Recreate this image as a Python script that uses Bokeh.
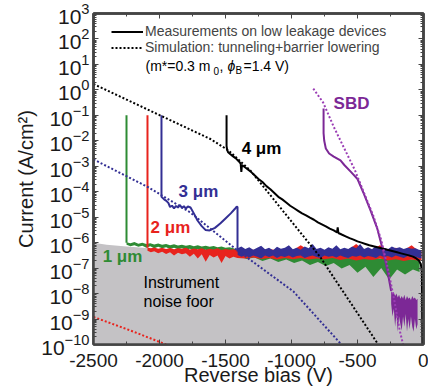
import numpy as np
from bokeh.plotting import figure
from bokeh.models import (FixedTicker, LinearAxis, LogAxis, Legend, LegendItem, Label,
                          CustomJSTickFormatter)
from bokeh.core.properties import value
from bokeh.embed import file_html
from bokeh.resources import INLINE

FONT = "Liberation Sans"

# ---- data: reverse bias (V) and log10 of current density (A/cm^2) ----

# simulation, tunneling + barrier lowering
sim_4um_v = [-2500, -2250, -2000, -1750, -1614, -1477, -1311, -1200, -1098, -950, -780, -680, -550, -450, -348]
sim_4um_log = [0.23, -0.38, -0.99, -1.60, -1.93, -2.38, -3.17, -3.88, -4.54, -5.49, -6.58, -7.37, -8.38, -9.16, -9.96]

sim_3um_v = [-2500, -2485, -2083, -1765, -1409, -985, -629]
sim_3um_log = [-2.73, -2.77, -3.83, -4.82, -6.31, -7.92, -9.96]

sim_2um_v = [-2500, -2220, -1950]
sim_2um_log = [-8.92, -9.45, -10.0]

sim_sbd_v = [-835, -760, -680, -600, -520, -450, -380, -320, -270, -220, -180, -150]
sim_sbd_log = [0.05, -0.50, -1.45, -2.30, -3.15, -4.05, -4.95, -5.90, -7.00, -8.30, -9.45, -10.1]

# instrument noise floor (upper edge)
floor_v = [-2500, -2400, -2250, -2000, -1500, -1000, -500, 0]
floor_log = [-6.0, -6.08, -6.15, -6.25, -6.4, -6.55, -6.7, -6.8]

# measured devices: breakdown step followed by noisy leakage (band = lower/upper envelope)
m1_step_v = [-2250, -2250]
m1_step_log = [-1.0, -6.0]
m1_v = [-2250, -2220, -2190, -2160, -2130, -2100, -2070, -2040, -2010, -1980, -1950, -1920, -1890, -1860,
        -1830, -1800, -1770, -1740, -1710, -1680, -1650, -1620, -1590, -1560, -1530, -1500, -1470, -1440,
        -1400, -1340, -1280, -1220, -1160, -1100, -1040, -980, -920, -860, -800, -740, -680, -620, -560,
        -500, -440, -380, -320, -260, -200, -140, -80, -30]
m1_hi = [-5.98, -6.02, -5.97, -6.04, -6.00, -6.05, -6.02, -6.07, -6.03, -6.08, -6.05, -6.10, -6.06, -6.11,
         -6.08, -6.12, -6.09, -6.14, -6.10, -6.15, -6.12, -6.16, -6.13, -6.18, -6.15, -6.20, -6.18, -6.22,
         -6.30, -6.40, -6.42, -6.45, -6.45, -6.48, -6.50, -6.50, -6.52, -6.52, -6.55, -6.55, -6.55, -6.58,
         -6.58, -6.60, -6.60, -6.60, -6.62, -6.62, -6.62, -6.65, -6.65, -6.70]
m1_lo = [-6.08, -6.14, -6.10, -6.16, -6.12, -6.20, -6.14, -6.22, -6.16, -6.22, -6.18, -6.25, -6.20, -6.26,
         -6.22, -6.28, -6.24, -6.30, -6.25, -6.32, -6.28, -6.34, -6.30, -6.36, -6.32, -6.38, -6.36, -6.42,
         -6.52, -6.64, -6.58, -6.72, -6.62, -6.76, -6.66, -6.80, -6.70, -6.88, -6.76, -6.92, -6.80, -7.02,
         -6.88, -7.18, -6.95, -7.35, -7.00, -7.45, -7.05, -7.25, -7.05, -7.15]

m2_step_v = [-2091, -2091]
m2_step_log = [-1.0, -6.2]
m2_v = [-2091, -2065, -2040, -2010, -1980, -1950, -1920, -1890, -1860, -1830, -1800, -1770, -1740, -1710,
        -1680, -1650, -1620, -1590, -1560, -1530, -1500, -1470, -1440, -1410, -1350, -1290, -1230, -1170,
        -1110, -1050, -990, -930, -870, -810, -750, -690, -630, -570, -510, -450, -390, -330, -270, -210,
        -150, -90, -45, -15]
m2_hi = [-6.20, -6.22, -6.19, -6.24, -6.20, -6.25, -6.21, -6.26, -6.22, -6.24, -6.20, -6.27, -6.23, -6.26,
         -6.22, -6.28, -6.24, -6.27, -6.22, -6.29, -6.25, -6.28, -6.26, -6.30, -6.30, -6.28, -6.30, -6.25,
         -6.30, -6.28, -6.30, -6.10, -6.30, -6.28, -6.30, -6.25, -6.30, -6.28, -6.05, -6.30, -6.28, -6.10,
         -6.30, -6.20, -6.30, -6.10, -6.30, -6.30]
m2_lo = [-6.32, -6.38, -6.34, -6.42, -6.36, -6.45, -6.38, -6.50, -6.40, -6.46, -6.42, -6.55, -6.44, -6.62,
         -6.46, -6.75, -6.48, -6.58, -6.50, -6.80, -6.52, -6.62, -6.55, -6.60, -6.62, -6.58, -6.64, -6.60,
         -6.66, -6.60, -6.65, -6.60, -6.66, -6.62, -6.65, -6.60, -6.68, -6.62, -6.70, -6.64, -6.68, -6.62,
         -6.70, -6.65, -6.72, -6.66, -6.70, -6.70]

m3_v_pre = [-1985, -1985, -1965, -1948, -1932, -1920, -1905, -1890, -1875, -1860, -1845, -1830, -1815, -1800,
            -1785, -1765, -1740, -1712, -1680, -1652, -1620, -1580, -1540, -1500, -1460, -1430, -1415, -1409, -1409]
m3_log_pre = [-1.0, -4.20, -4.30, -4.36, -4.45, -4.60, -4.55, -4.65, -4.56, -4.62, -4.52, -4.64, -4.57, -4.66,
              -4.58, -4.62, -4.85, -5.13, -5.35, -5.50, -5.52, -5.42, -5.25, -5.05, -4.85, -4.68, -4.58, -4.60, -6.35]
m3_v = [-1408, -1380, -1350, -1320, -1290, -1260, -1230, -1200, -1170, -1140, -1110, -1080, -1050, -1020,
        -990, -960, -930, -900, -870, -840, -810, -780, -750, -720, -690, -660, -630, -600, -570, -540, -510,
        -480, -450, -420, -390, -360, -330, -300, -270, -240, -210, -180, -150, -120, -90, -60, -35, -15]
m3_hi = [-6.22, -6.15, -6.25, -6.18, -6.28, -6.20, -6.12, -6.26, -6.20, -6.30, -6.16, -6.24, -6.20, -6.10,
         -6.26, -6.20, -6.28, -6.15, -6.22, -6.05, -6.25, -6.20, -6.28, -6.18, -6.24, -6.10, -6.26, -6.20,
         -6.25, -6.15, -6.22, -6.05, -6.25, -6.18, -6.26, -6.12, -6.22, -6.20, -6.26, -6.15, -6.22, -6.18,
         -6.25, -6.20, -6.24, -6.22, -6.28, -6.30]
m3_lo = [-6.48, -6.55, -6.50, -6.58, -6.50, -6.55, -6.62, -6.50, -6.56, -6.50, -6.60, -6.52, -6.56, -6.50,
         -6.58, -6.52, -6.50, -6.60, -6.54, -6.50, -6.56, -6.60, -6.50, -6.55, -6.52, -6.58, -6.50, -6.56,
         -6.60, -6.52, -6.55, -6.50, -6.58, -6.52, -6.55, -6.60, -6.50, -6.56, -6.52, -6.58, -6.50, -6.55,
         -6.60, -6.52, -6.56, -6.55, -6.60, -6.62]

m4_v = [-1492, -1492, -1488, -1480, -1465, -1445, -1424, -1400, -1385, -1380, -1375, -1350, -1311, -1280,
        -1250, -1220, -1190, -1160, -1130, -1100, -1070, -1040, -1010, -980, -950, -920, -890, -860, -830,
        -800, -770, -740, -710, -680, -655, -650, -645, -620, -590, -560, -530, -500, -470, -440, -410, -380,
        -350, -320, -290, -260, -230, -200, -170, -140, -110, -80, -55, -35, -20, -12, -8]
m4_log = [-1.0, -2.20, -2.35, -2.45, -2.52, -2.60, -2.68, -2.80, -2.90, -3.22, -2.95, -3.05, -3.20, -3.35,
          -3.50, -3.62, -3.78, -3.90, -4.05, -4.20, -4.30, -4.42, -4.55, -4.65, -4.75, -4.85, -4.93, -5.02,
          -5.10, -5.20, -5.28, -5.36, -5.45, -5.52, -5.60, -5.40, -5.62, -5.68, -5.75, -5.82, -5.88, -5.95,
          -6.00, -6.05, -6.10, -6.14, -6.18, -6.22, -6.26, -6.30, -6.34, -6.38, -6.42, -6.46, -6.50, -6.55,
          -6.62, -6.70, -6.85, -7.10, -10.5]

sbd_v = [-757, -757, -752, -740, -715, -680, -629, -600, -550, -500, -450, -400, -350, -300, -270, -245]
sbd_log = [-0.73, -1.70, -2.00, -2.30, -2.50, -2.62, -2.77, -2.95, -3.22, -3.50, -4.10, -4.75, -5.45, -6.45,
           -7.20, -7.90]
sbd_noise_v = [-245, -235, -225, -215, -205, -195, -185, -175, -165, -155, -145, -135, -125, -115, -105,
               -95, -85, -75, -65, -55, -45]
sbd_noise_hi = [-7.90, -8.00, -7.95, -8.10, -8.00, -8.15, -8.05, -8.20, -8.10, -8.20, -8.05, -8.25, -8.10,
                -8.20, -8.15, -8.25, -8.10, -8.20, -8.15, -8.25, -8.20]
sbd_noise_lo = [-8.40, -8.90, -8.60, -9.30, -8.80, -9.50, -8.90, -9.20, -9.45, -8.90, -9.30, -8.80, -9.50,
                -9.00, -9.40, -8.90, -9.30, -9.50, -9.00, -9.40, -9.20]

x_ticks = [-2500, -2000, -1500, -1000, -500, 0]
x_minor = [-2250, -1750, -1250, -750, -250]
y_decades = list(range(-10, 4))

GREEN, RED, BLUE, BLACK = "#2e8b34", "#e8231d", "#332f94", "#000000"
PURPLE, PURPLE_SIM, GREY = "#7c2896", "#9b3db5", "#c4c2c5"
FRAME = "#444444"
TEXT = "#1a1a1a"


def e(vals):
    return 10.0 ** np.asarray(vals, dtype=float)


p = figure(frame_width=330, frame_height=331, x_range=(-2500, 0), y_range=(1e-10, 1e3),
           y_axis_type="log", output_backend="svg", toolbar_location=None,
           min_border_left=93, min_border_right=5, min_border_top=13, min_border_bottom=46)
p.grid.visible = False
p.background_fill_color = "white"
p.outline_line_color = FRAME
p.outline_line_width = 2.5

# noise floor of the instrument
p.varea(x=floor_v, y1=[1e-11] * len(floor_v), y2=e(floor_log), fill_color=GREY)

# measured traces
p.varea(x=m1_v, y1=e(m1_lo), y2=e(m1_hi), fill_color=GREEN)
p.line(m1_step_v, e(m1_step_log), line_color=GREEN, line_width=2)
p.varea(x=m2_v, y1=e(m2_lo), y2=e(m2_hi), fill_color=RED)
p.line(m2_step_v, e(m2_step_log), line_color=RED, line_width=2)
p.varea(x=m3_v, y1=e(m3_lo), y2=e(m3_hi), fill_color=BLUE)
p.line(m3_v_pre, e(m3_log_pre), line_color=BLUE, line_width=2)
p.varea(x=sbd_noise_v, y1=e(sbd_noise_lo), y2=e(sbd_noise_hi), fill_color=PURPLE)
p.line(sbd_v, e(sbd_log), line_color=PURPLE, line_width=2)
meas = p.line(m4_v, e(m4_log), line_color=BLACK, line_width=2)

# simulations
sim = p.line(sim_4um_v, e(sim_4um_log), line_color=BLACK, line_width=2, line_dash="2 2")
p.line(sim_3um_v, e(sim_3um_log), line_color=BLUE, line_width=2, line_dash="2 2")
p.line(sim_2um_v, e(sim_2um_log), line_color=RED, line_width=2, line_dash="2 2")
p.line(sim_sbd_v, e(sim_sbd_log), line_color=PURPLE_SIM, line_width=2, line_dash="2 2")

# curve labels
labels = [("4 μm", -1227, -2.30, BLACK), ("SBD", -545, -0.54, PURPLE),
          ("3 μm", -1705, -3.99, BLUE), ("2 μm", -1917, -5.41, RED),
          ("1 μm", -2280, -6.54, GREEN)]
for txt, x, y, col in labels:
    p.text(x=[x], y=[10 ** y], text=[txt], text_color=col, text_font=value(FONT),
           text_font_size="17px", text_font_style="bold", text_align="center", text_baseline="middle")
for txt, y in [("Instrument", -7.55), ("noise foor", -8.33)]:
    p.text(x=[-2121], y=[10 ** y], text=[txt], text_color=BLACK, text_font=value(FONT),
           text_font_size="16px", text_align="left", text_baseline="middle")

# axes
xa, ya = p.xaxis[0], p.yaxis[0]
for ax in (xa, ya):
    ax.major_label_text_font = FONT
    ax.major_label_text_color = TEXT
    ax.axis_label_text_font = FONT
    ax.axis_label_text_font_size = "20px"
    ax.axis_label_text_font_style = "normal"
    ax.axis_label_text_color = TEXT
xa.major_label_text_font_size = "19px"
ya.major_label_text_font_size = "21px"

xa.ticker = FixedTicker(ticks=x_ticks, minor_ticks=x_minor)
xa.formatter = CustomJSTickFormatter(code="return tick.toFixed(0)")
ya.ticker = FixedTicker(ticks=[10.0 ** k for k in y_decades],
                        minor_ticks=[m * 10.0 ** k for k in y_decades[:-1] for m in range(2, 10)])
xa.axis_label = "Reverse bias (V)"
ya.axis_label = "Current (A/cm²)"
xa.major_label_standoff = 9
xa.axis_label_standoff = -6
ya.major_label_standoff = 4
ya.axis_label_standoff = 1

blank = CustomJSTickFormatter(code="return ''")
top = LinearAxis(ticker=xa.ticker, formatter=blank)
right = LogAxis(ticker=ya.ticker, formatter=blank)
p.add_layout(top, "above")
p.add_layout(right, "right")

for ax in (xa, ya, top, right):
    ax.axis_line_color = FRAME
    ax.axis_line_width = 2.5
    ax.major_tick_line_color = FRAME
    ax.minor_tick_line_color = FRAME
    ax.major_tick_in = 5
    ax.major_tick_out = 0
    ax.minor_tick_in = 3
    ax.minor_tick_out = 0
for ax in (top, right):
    ax.major_label_standoff = 0

# legend rows (location = bottom-left corner of each row, px from the frame's bottom-left)
for item, bottom in [(LegendItem(label="Measurements on low leakage devices", renderers=[meas]), 305),
                     (LegendItem(label="Simulation: tunneling+barrier lowering", renderers=[sim]), 289)]:
    p.add_layout(Legend(items=[item], location=(18, bottom), glyph_width=32, glyph_height=13,
                        label_height=13, label_standoff=2, padding=0, margin=0, spacing=0,
                        label_text_font=FONT, label_text_font_size="14px",
                        border_line_alpha=0, background_fill_alpha=0), "center")

# third legend line: (m*=0.3 m0, phi_B=1.4 V); (x, baseline) in px from the frame's top-left
pieces = [("(m*=0.3 m", 52, 52, "14px", "normal"), ("0", 120, 57, "10px", "normal"),
          (",", 126, 52, "14px", "normal"), ("ϕ", 134, 52, "14px", "italic"),
          ("B", 142, 57, "10px", "normal"), ("=1.4 V)", 150, 52, "14px", "normal")]
for txt, sx, sy, size, style in pieces:
    p.add_layout(Label(x=sx, y=331 - sy, x_units="screen", y_units="screen", text=txt,
                       text_font=FONT, text_font_size=size, text_font_style=style,
                       text_baseline="alphabetic", text_color=BLACK))

open("out.html", "w").write(file_html(p, INLINE))
